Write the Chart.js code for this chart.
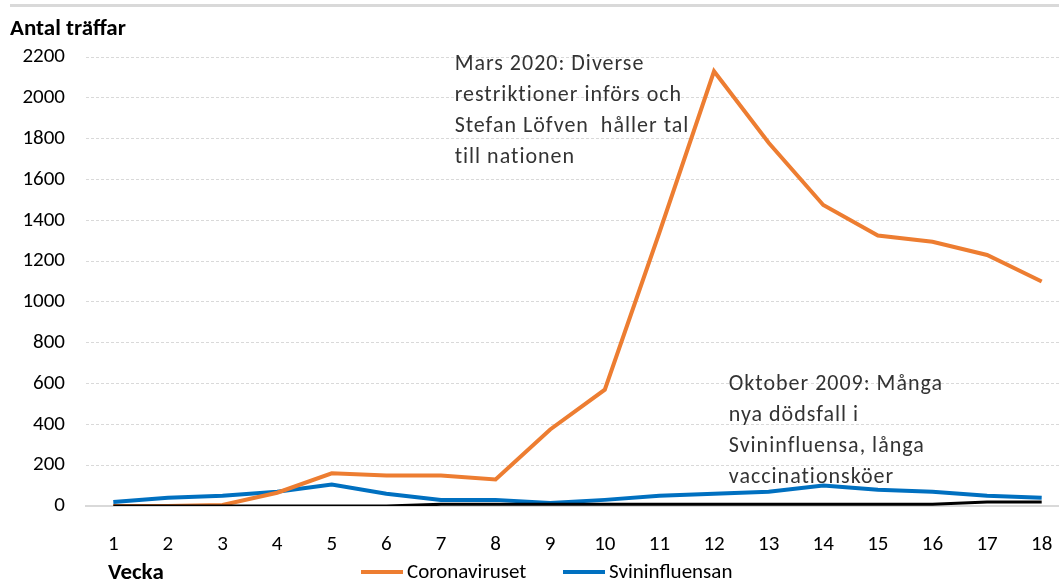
<!DOCTYPE html>
<html>
<head>
<meta charset="utf-8">
<script src="https://cdn.jsdelivr.net/npm/chart.js@4"></script>
<style>
  html, body { margin: 0; padding: 0; background: #fff; overflow: hidden; }
  #wrap { position: relative; width: 1080px; height: 582px; font-family: Carlito, Lato, "Open Sans", sans-serif; }
  #topLine { position: absolute; left: 10px; top: 4px; width: 1070px; border-top: 3px solid #d9d9d9; }
  .axisTitle { position: absolute; font-weight: bold; font-size: 23px; color: #000; line-height: 24px; }
  .legItem { position: absolute; top: 559px; font-size: 21px; line-height: 24px; color: #000; white-space: nowrap; }
  .legItem span { display: inline-block; width: 42px; height: 4px; vertical-align: middle; margin-right: 4px; position: relative; top: -1px; }
</style>
</head>
<body>
<div id="wrap">
  <div id="topLine"></div>
  <div class="axisTitle" style="left:10px; top:15px;">Antal träffar</div>
  <div class="axisTitle" style="left:108px; top:559px;">Vecka</div>
  <div class="legItem" style="left:361px;"><span style="background:#ED7D31"></span>Coronaviruset</div>
  <div class="legItem" style="left:563px;"><span style="background:#0070C0"></span>Svininfluensan</div>
  <canvas id="chart" width="1080" height="582"></canvas>
</div>
<script>
const weeks = ['1','2','3','4','5','6','7','8','9','10','11','12','13','14','15','16','17','18'];
const corona = [0, 0, 5, 65, 160, 150, 150, 130, 375, 570, 1340, 2130, 1780, 1475, 1325, 1295, 1230, 1100];
const svininfluensan = [20, 40, 50, 70, 105, 60, 30, 30, 15, 30, 50, 60, 70, 100, 80, 70, 50, 40];
const other = [0, 0, 0, 0, 0, 0, 8, 8, 8, 8, 8, 8, 8, 8, 8, 8, 20, 20];
const yTicks = [0, 200, 400, 600, 800, 1000, 1200, 1400, 1600, 1800, 2000, 2200];

// text notes anchored at (category index, value)
const notes = [
  { x: 6.25, y: 2165, lines: ['Mars 2020: Diverse', 'restriktioner införs och', 'Stefan Löfven  håller tal', 'till nationen'] },
  { x: 11.27, y: 593, lines: ['Oktober 2009: Många', 'nya dödsfall i', 'Svininfluensa, långa', 'vaccinationsköer'] }
];

const notePlugin = {
  id: 'notes',
  afterDatasetsDraw(chart) {
    const ctx = chart.ctx;
    const xs = chart.scales.x, ys = chart.scales.y;
    ctx.save();
    ctx.font = '22px Carlito, Lato, "Open Sans", sans-serif';
    ctx.letterSpacing = '1px';
    ctx.fillStyle = '#333333';
    ctx.textBaseline = 'middle';
    ctx.textAlign = 'left';
    notes.forEach(n => {
      const px = xs.getPixelForValue(n.x);
      const py = ys.getPixelForValue(n.y);
      n.lines.forEach((l, i) => ctx.fillText(l, px, py + i * 31));
    });
    ctx.restore();
  }
};

const font = { family: 'Carlito, Lato, "Open Sans", sans-serif', size: 21 };

new Chart(document.getElementById('chart'), {
  type: 'line',
  data: {
    labels: weeks,
    datasets: [
      { label: '', data: other, borderColor: '#000000', borderWidth: 3, pointRadius: 0, tension: 0 },
      { label: 'Coronaviruset', data: corona, borderColor: '#ED7D31', borderWidth: 4, pointRadius: 0, tension: 0 },
      { label: 'Svininfluensan', data: svininfluensan, borderColor: '#0070C0', borderWidth: 4, pointRadius: 0, tension: 0 }
    ]
  },
  options: {
    responsive: false,
    animation: false,
    layout: { padding: { top: 57, right: 11, bottom: 22, left: 0 } },
    plugins: {
      legend: { display: false },
      tooltip: { enabled: false }
    },
    scales: {
      x: {
        offset: true,
        afterFit: s => { s.height = 54; },
        grid: { display: false },
        border: { display: true, color: '#d9d9d9', width: 2 },
        ticks: { font: font, color: '#000', padding: 18, maxRotation: 0 }
      },
      y: {
        min: 0,
        max: 2200,
        afterFit: s => { s.width = 86; },
        afterBuildTicks: s => { s.ticks = yTicks.map(v => ({ value: v })); },
        grid: { color: '#d9d9d9', lineWidth: ctx => ctx.tick && ctx.tick.value === 0 ? 0 : 1, drawTicks: false },
        border: { display: false, dash: [3, 2] },
        ticks: { font: font, color: '#000', padding: 21, callback: v => String(v) }
      }
    }
  },
  plugins: [notePlugin]
});
</script>
</body>
</html>
